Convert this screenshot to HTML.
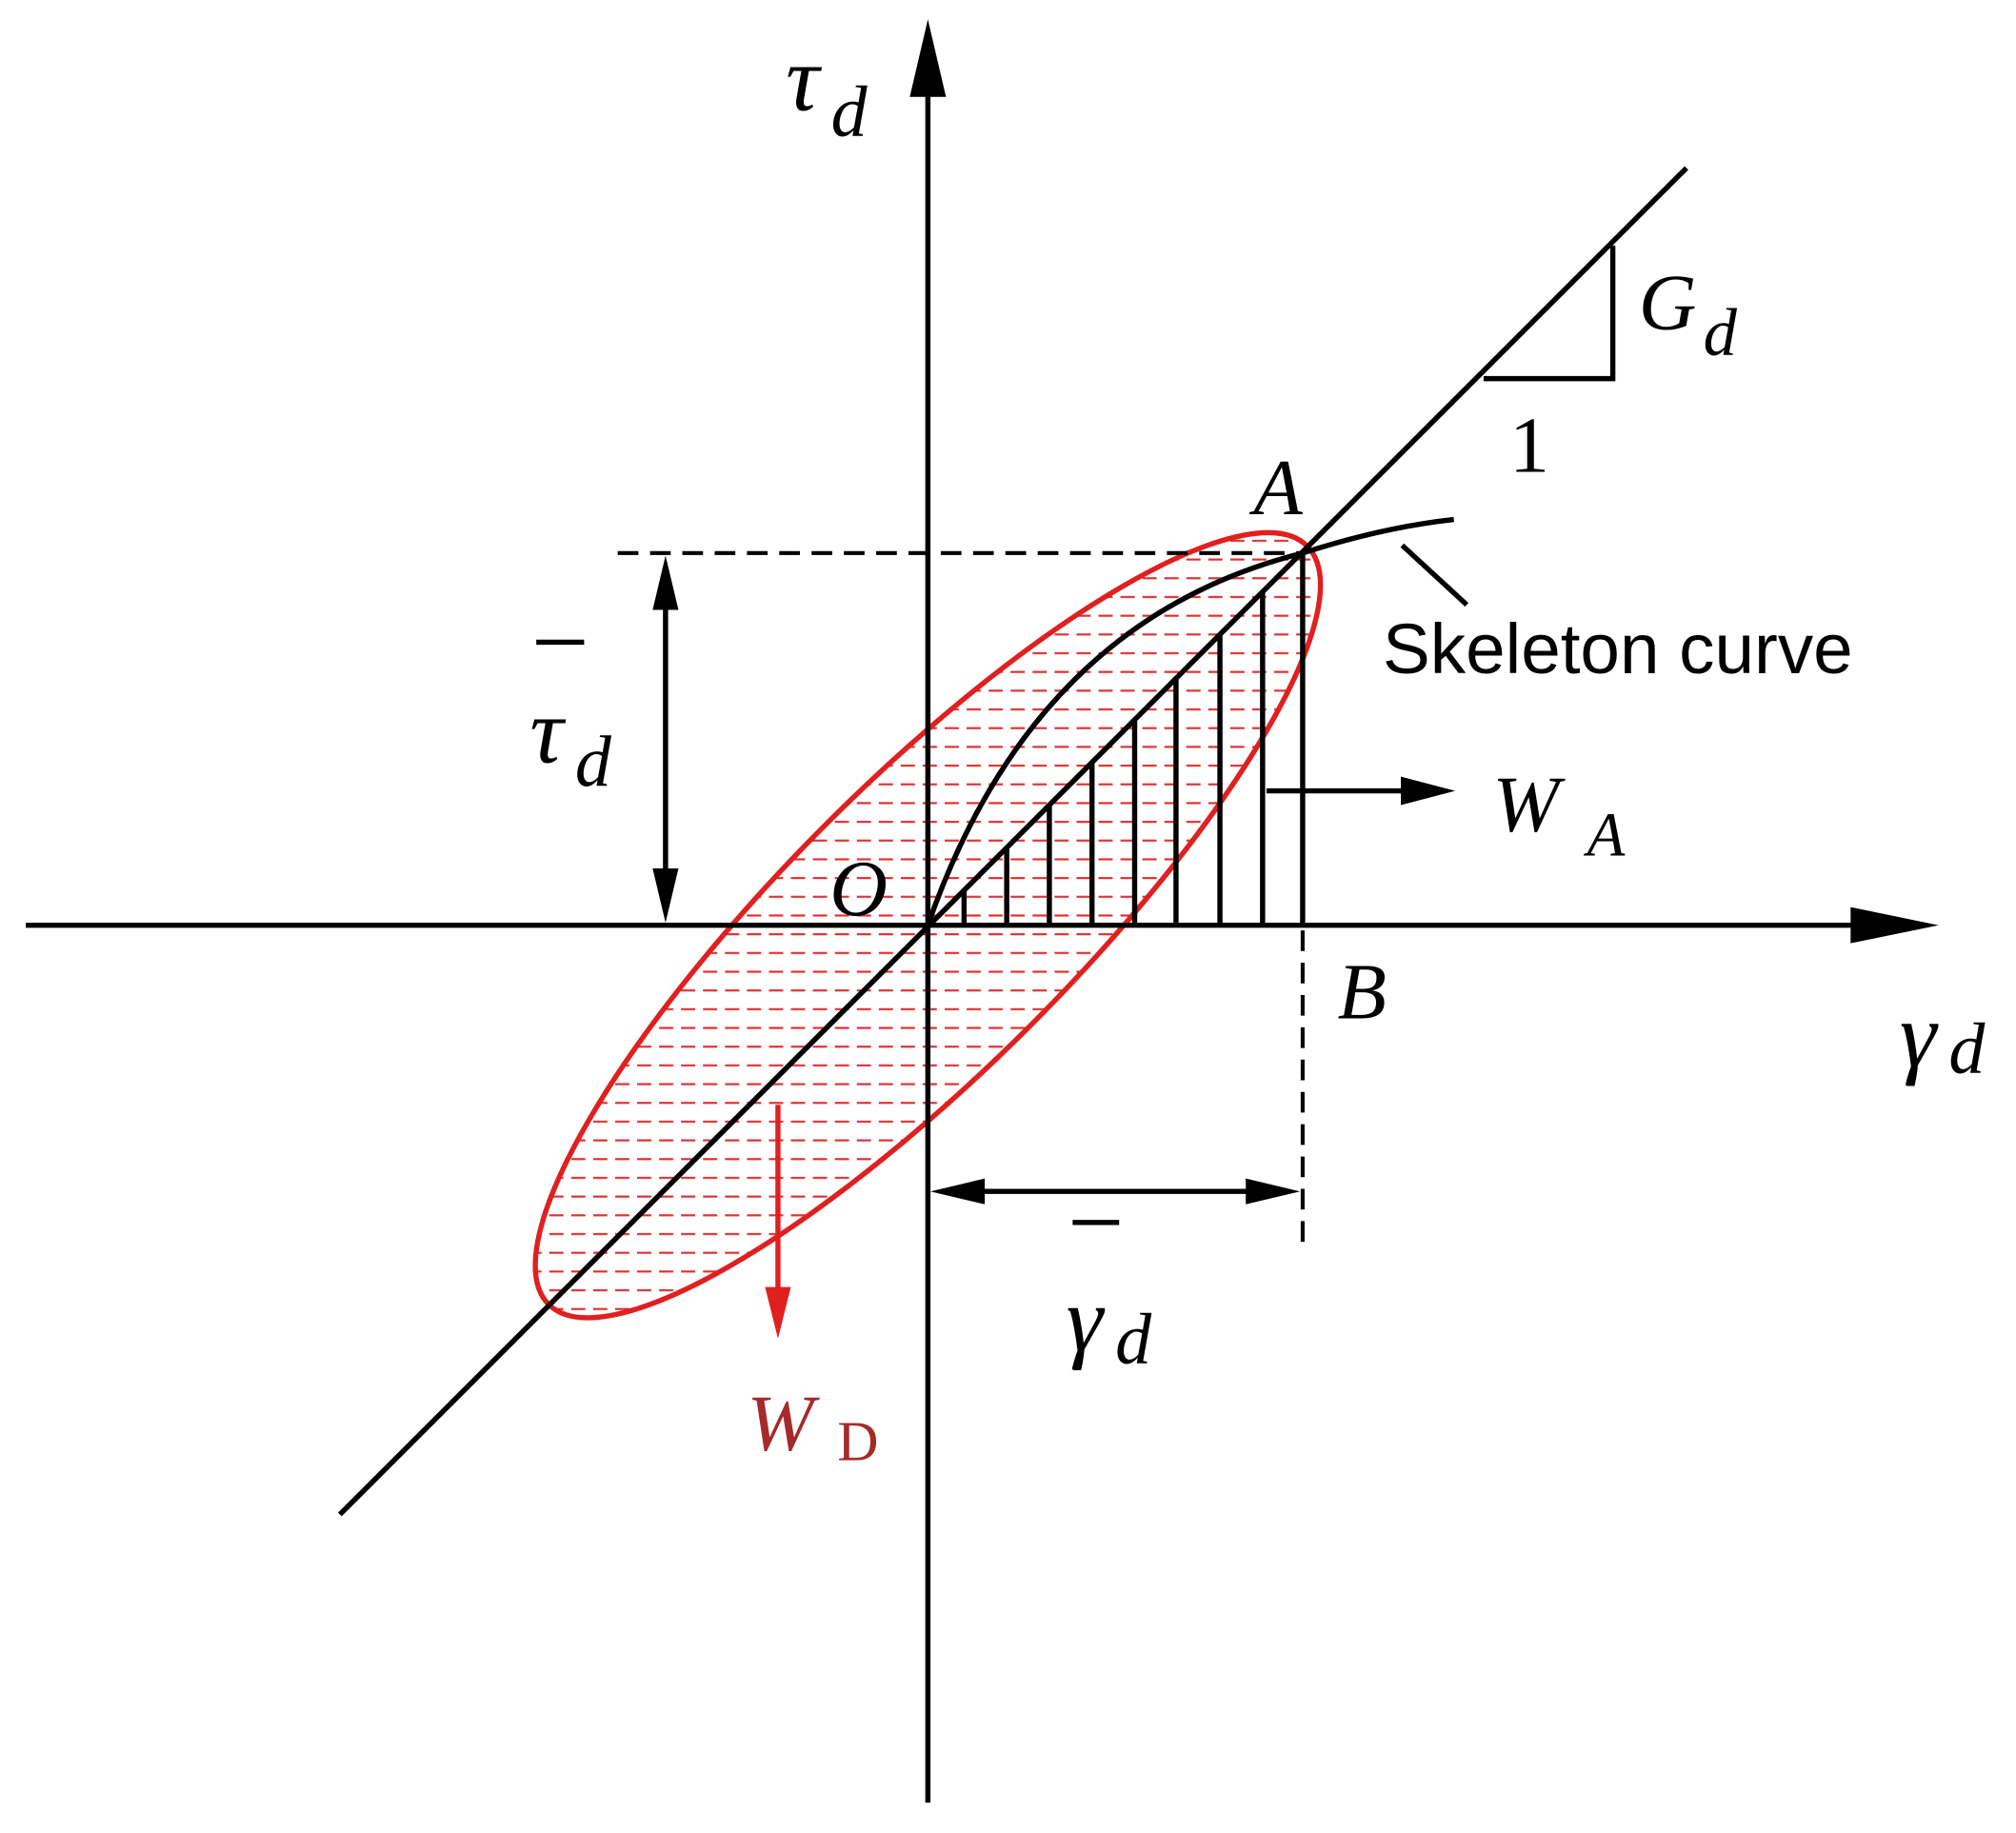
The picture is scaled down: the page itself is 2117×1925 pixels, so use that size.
<!DOCTYPE html>
<html><head><meta charset="utf-8"><style>
html,body{margin:0;padding:0;background:#fff;}
svg{display:block;}
text{font-family:"Liberation Serif",serif;}
</style></head><body>
<svg width="2117" height="1925" viewBox="0 0 1560 1418.5" xmlns="http://www.w3.org/2000/svg">
<defs>
<clipPath id="ell"><ellipse cx="718" cy="716" rx="415" ry="111" transform="rotate(-45 718 716)"/></clipPath>
<pattern id="hatch" x="0" y="716" width="17" height="14.5" patternUnits="userSpaceOnUse">
<line x1="0" y1="7" x2="11" y2="7" stroke="#e03030" stroke-width="1.6"/>
</pattern>
</defs>
<rect x="380" y="380" width="680" height="680" fill="url(#hatch)" clip-path="url(#ell)"/>
<ellipse cx="718" cy="716" rx="415" ry="111" transform="rotate(-45 718 716)" fill="none" stroke="#e02020" stroke-width="4"/>
<g stroke="#000" stroke-width="4" fill="none">
<line x1="718" y1="1395" x2="718" y2="60"/>
<line x1="20" y1="716" x2="1450" y2="716"/>
<line x1="263" y1="1172" x2="1305" y2="130"/>
<line x1="746" y1="716" x2="746" y2="688"/>
<line x1="779" y1="716" x2="779" y2="655"/>
<line x1="812" y1="716" x2="812" y2="622"/>
<line x1="845" y1="716" x2="845" y2="589"/>
<line x1="878" y1="716" x2="878" y2="556"/>
<line x1="910" y1="716" x2="910" y2="524"/>
<line x1="944" y1="716" x2="944" y2="490"/>
<line x1="977" y1="716" x2="977" y2="457"/>
<line x1="1008" y1="716" x2="1008" y2="428"/>
<path d="M718,716 Q800,480 1008,428 Q1070,408 1125,402"/>
<line x1="1085" y1="422" x2="1135" y2="468"/>
<polyline points="1248,190 1248,293 1148,293"/>
</g>
<g stroke="#000" stroke-width="3" fill="none" stroke-dasharray="16,9">
<line x1="478" y1="428" x2="1008" y2="428"/>
<line x1="1008" y1="720" x2="1008" y2="962"/>
</g>
<path d="M718,15 L704,75 L732,75 Z" fill="#000"/>
<path d="M1500,716 L1432,702 L1432,730 Z" fill="#000"/>
<line x1="515" y1="470" x2="515" y2="674" stroke="#000" stroke-width="4"/>
<path d="M515,430 L505,472 L525,472 Z M515,714 L505,672 L525,672 Z" fill="#000"/>
<line x1="760" y1="922" x2="966" y2="922" stroke="#000" stroke-width="4"/>
<path d="M720,922 L762,912 L762,932 Z M1006,922 L964,912 L964,932 Z" fill="#000"/>
<line x1="980" y1="612" x2="1090" y2="612" stroke="#000" stroke-width="4"/>
<path d="M1126,612 L1084,601 L1084,623 Z" fill="#000"/>
<line x1="602" y1="855" x2="602" y2="1000" stroke="#e02020" stroke-width="4"/>
<path d="M602,1036 L592,996 L612,996 Z" fill="#e02020"/>
<g font-style="italic" fill="#000">
<text x="608" y="85" font-size="72">τ</text><text x="643" y="105" font-size="56">d</text>
<text x="410" y="590" font-size="72">τ</text><text x="445" y="608" font-size="56">d</text>
<text x="1470" y="825" font-size="72">γ</text><text x="1508" y="830" font-size="56">d</text>
<text x="825" y="1045" font-size="72">γ</text><text x="863" y="1055" font-size="56">d</text>
<text x="1268" y="255" font-size="62">G</text><text x="1318" y="275" font-size="52">d</text>
<text x="642" y="708" font-size="62">O</text>
<text x="970" y="398" font-size="62">A</text>
<text x="1035" y="788" font-size="62">B</text>
<text x="1155" y="643" font-size="62">W</text><text x="1228" y="662" font-size="48">A</text>
</g>
<line x1="415" y1="497" x2="452" y2="497" stroke="#000" stroke-width="4"/>
<line x1="830" y1="946" x2="866" y2="946" stroke="#000" stroke-width="4"/>
<text x="1168" y="365" font-size="62" fill="#000">1</text>
<text x="1070" y="521" font-size="55" fill="#000" style="font-family:'Liberation Sans',sans-serif">Skeleton curve</text>
<text x="578" y="1122" font-size="62" font-style="italic" fill="#a52a2a">W</text>
<text x="648" y="1130" font-size="44" fill="#a52a2a">D</text>
</svg>
</body></html>
